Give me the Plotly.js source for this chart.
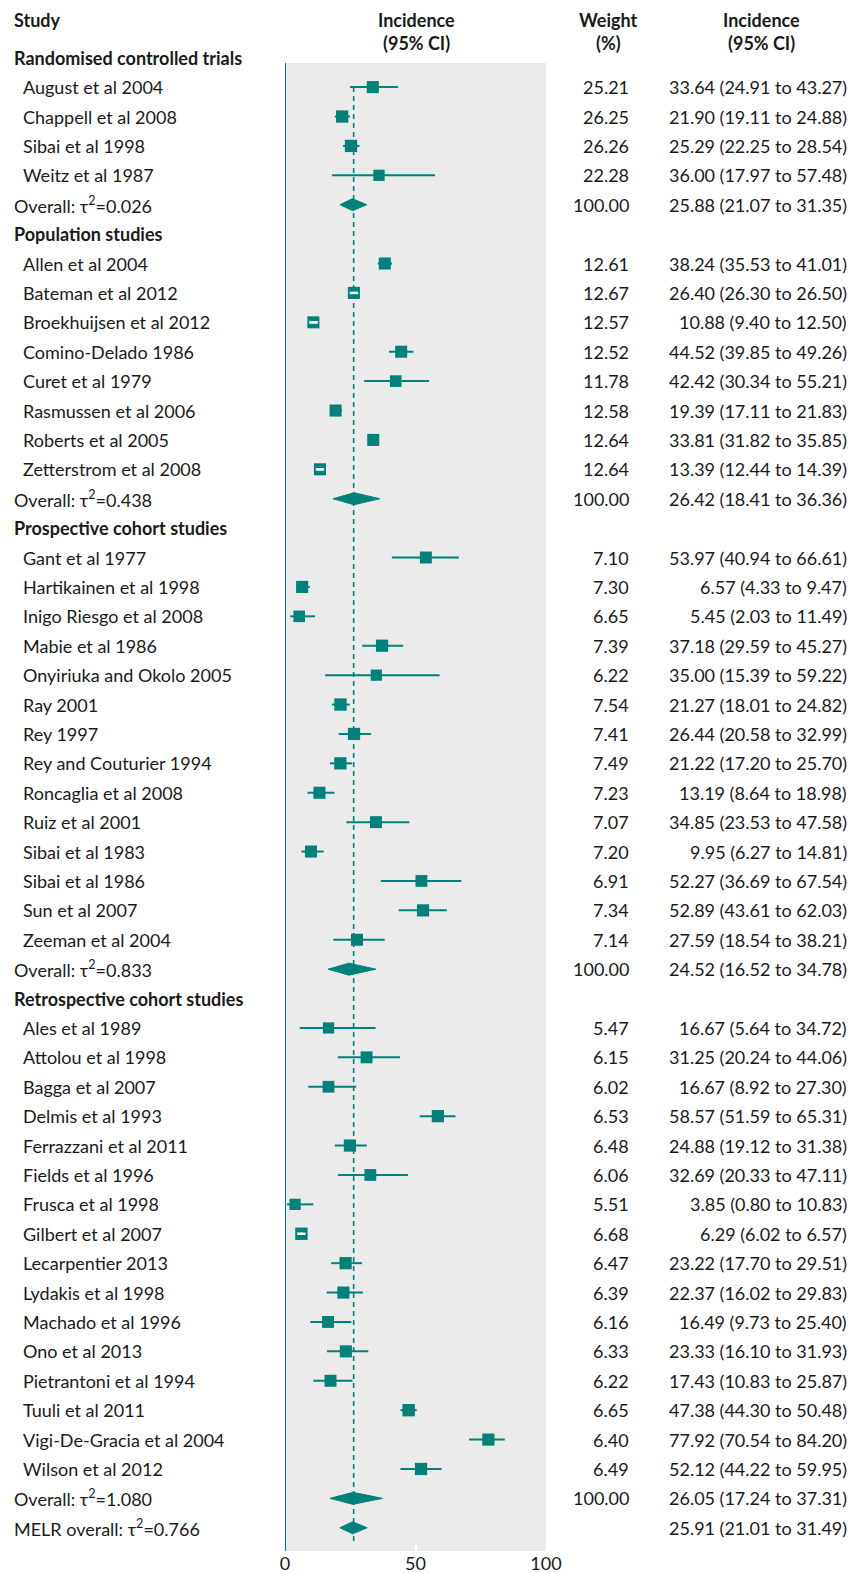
<!DOCTYPE html>
<html><head><meta charset="utf-8">
<script src="https://cdn.plot.ly/plotly-3.0.1.min.js"></script>
<style>html,body{margin:0;padding:0;background:#fff;} #chart{width:856px;height:1573px;}</style>
</head><body><div id="chart"></div>
<script>
// ---------------- DATA ----------------
const groupNames = ['Randomised controlled trials', 'Population studies', 'Prospective cohort studies', 'Retrospective cohort studies'];

const rctStudies = ['August et al 2004', 'Chappell et al 2008', 'Sibai et al 1998', 'Weitz et al 1987'];
const rctEst = [33.64, 21.90, 25.29, 36.00];
const rctLo = [24.91, 19.11, 22.25, 17.97];
const rctHi = [43.27, 24.88, 28.54, 57.48];
const rctWeight = [25.21, 26.25, 26.26, 22.28];

const popStudies = ['Allen et al 2004', 'Bateman et al 2012', 'Broekhuijsen et al 2012', 'Comino-Delado 1986', 'Curet et al 1979', 'Rasmussen et al 2006', 'Roberts et al 2005', 'Zetterstrom et al 2008'];
const popEst = [38.24, 26.40, 10.88, 44.52, 42.42, 19.39, 33.81, 13.39];
const popLo = [35.53, 26.30, 9.40, 39.85, 30.34, 17.11, 31.82, 12.44];
const popHi = [41.01, 26.50, 12.50, 49.26, 55.21, 21.83, 35.85, 14.39];
const popWeight = [12.61, 12.67, 12.57, 12.52, 11.78, 12.58, 12.64, 12.64];

const proStudies = ['Gant et al 1977', 'Hartikainen et al 1998', 'Inigo Riesgo et al 2008', 'Mabie et al 1986', 'Onyiriuka and Okolo 2005', 'Ray 2001', 'Rey 1997', 'Rey and Couturier 1994', 'Roncaglia et al 2008', 'Ruiz et al 2001', 'Sibai et al 1983', 'Sibai et al 1986', 'Sun et al 2007', 'Zeeman et al 2004'];
const proEst = [53.97, 6.57, 5.45, 37.18, 35.00, 21.27, 26.44, 21.22, 13.19, 34.85, 9.95, 52.27, 52.89, 27.59];
const proLo = [40.94, 4.33, 2.03, 29.59, 15.39, 18.01, 20.58, 17.20, 8.64, 23.53, 6.27, 36.69, 43.61, 18.54];
const proHi = [66.61, 9.47, 11.49, 45.27, 59.22, 24.82, 32.99, 25.70, 18.98, 47.58, 14.81, 67.54, 62.03, 38.21];
const proWeight = [7.10, 7.30, 6.65, 7.39, 6.22, 7.54, 7.41, 7.49, 7.23, 7.07, 7.20, 6.91, 7.34, 7.14];

const retStudies = ['Ales et al 1989', 'Attolou et al 1998', 'Bagga et al 2007', 'Delmis et al 1993', 'Ferrazzani et al 2011', 'Fields et al 1996', 'Frusca et al 1998', 'Gilbert et al 2007', 'Lecarpentier 2013', 'Lydakis et al 1998', 'Machado et al 1996', 'Ono et al 2013', 'Pietrantoni et al 1994', 'Tuuli et al 2011', 'Vigi-De-Gracia et al 2004', 'Wilson et al 2012'];
const retEst = [16.67, 31.25, 16.67, 58.57, 24.88, 32.69, 3.85, 6.29, 23.22, 22.37, 16.49, 23.33, 17.43, 47.38, 77.92, 52.12];
const retLo = [5.64, 20.24, 8.92, 51.59, 19.12, 20.33, 0.80, 6.02, 17.70, 16.02, 9.73, 16.10, 10.83, 44.30, 70.54, 44.22];
const retHi = [34.72, 44.06, 27.30, 65.31, 31.38, 47.11, 10.83, 6.57, 29.51, 29.83, 25.40, 31.93, 25.87, 50.48, 84.20, 59.95];
const retWeight = [5.47, 6.15, 6.02, 6.53, 6.48, 6.06, 5.51, 6.68, 6.47, 6.39, 6.16, 6.33, 6.22, 6.65, 6.40, 6.49];

const overallTau2 = ['0.026', '0.438', '0.833', '1.080'];
const overallEst = [25.88, 26.42, 24.52, 26.05];
const overallLo = [21.07, 18.41, 16.52, 17.24];
const overallHi = [31.35, 36.36, 34.78, 37.31];
const overallWeight = [100.00, 100.00, 100.00, 100.00];

const melrLabel = 'MELR overall';
const melrTau2 = '0.766';
const melrEst = 25.91, melrLo = 21.01, melrHi = 31.49;

const refLine = 26.3;
const xTicks = [0, 50, 100];
const headerStudy = 'Study';
const headerIncidence = ['Incidence', '(95% CI)'];
const headerWeight = ['Weight', '(%)'];

// ---------------- STYLE ----------------
const TEAL = '#00827b';
const GRAY = '#ebebeb';
const TXT = '#1a1a1a';
const FONT = 'Lato, "Open Sans", sans-serif';
const FS = 18;
const W = 856, H = 1573;
const ML = 285, MR = 310, MT = 63, MB = 22;
const PW = W - ML - MR, PH = H - MT - MB;
const Y0 = 0.18, Y1 = 50.79;
const rowPx = PH / (Y1 - Y0);
const px = p => (p - ML) / PW;                       // pixel -> paper x
const rowPaper = r => 1 - ((r - Y0) * rowPx) / PH;   // row -> paper y
const pxPerUnit = PW / 100;

const groups = [
  {name: groupNames[0], s: rctStudies, e: rctEst, lo: rctLo, hi: rctHi, w: rctWeight},
  {name: groupNames[1], s: popStudies, e: popEst, lo: popLo, hi: popHi, w: popWeight},
  {name: groupNames[2], s: proStudies, e: proEst, lo: proLo, hi: proHi, w: proWeight},
  {name: groupNames[3], s: retStudies, e: retEst, lo: retLo, hi: retHi, w: retWeight}
];

const f2 = v => v.toFixed(2);
const ciText = (e, l, h) => `${f2(e)} (${f2(l)} to ${f2(h)})`;

const ann = [];
function addText(text, xp, r, anchor, bold) {
  ann.push({text: bold ? '<b>' + text + '</b>' : text, xref: 'paper', x: px(xp), yref: 'paper', y: rowPaper(r),
    xanchor: anchor, yanchor: 'middle', showarrow: false,
    font: {family: FONT, size: FS, color: TXT}});
}

const ciX = [], ciY = [];
const boxX = [], boxY = [], boxS = [];
const whX = [], whY = [], whMX = [], whMY = [];
const diamonds = [];

let row = 0;
groups.forEach((g, gi) => {
  addText(g.name, 12, row, 'left', true);
  row++;
  const mean = g.w.reduce((a, b) => a + b, 0) / g.w.length;
  g.s.forEach((name, i) => {
    addText(name, 21, row, 'left', false);
    addText(f2(g.w[i]), 631, row, 'right', false);
    addText(ciText(g.e[i], g.lo[i], g.hi[i]), 849, row, 'right', false);
    ciX.push(g.lo[i], g.hi[i], null); ciY.push(row, row, null);
    const size = 12 * Math.sqrt(g.w[i] / mean);
    boxX.push(g.e[i]); boxY.push(row); boxS.push(size);
    if ((g.hi[i] - g.lo[i]) * pxPerUnit < size * 0.75) {
      whX.push(g.lo[i], g.hi[i], null); whY.push(row, row, null);
      whMX.push(g.e[i]); whMY.push(row);
    }
    row++;
  });
  addText('Overall: τ<sup>2</sup>=' + overallTau2[gi], 12, row, 'left', false);
  addText(f2(overallWeight[gi]), 631, row, 'right', false);
  addText(ciText(overallEst[gi], overallLo[gi], overallHi[gi]), 849, row, 'right', false);
  diamonds.push({e: overallEst[gi], lo: overallLo[gi], hi: overallHi[gi], y: row});
  row++;
});
addText(melrLabel + ': τ<sup>2</sup>=' + melrTau2, 12, row, 'left', false);
addText(ciText(melrEst, melrLo, melrHi), 849, row, 'right', false);
diamonds.push({e: melrEst, lo: melrLo, hi: melrHi, y: row});
const lastRow = row;

// headers
const hy1 = -1.28, hy2 = -0.49;
addText(headerStudy, 12, hy1, 'left', true);
[[headerIncidence, 416], [headerWeight, 608], [headerIncidence, 761]].forEach(([h, c]) => {
  addText(h[0], c, hy1, 'center', true);
  addText(h[1], c, hy2, 'center', true);
});

const traces = [];
traces.push({type: 'scatter', mode: 'lines', x: ciX, y: ciY, line: {color: TEAL, width: 2}, hoverinfo: 'skip', connectgaps: false});
traces.push({type: 'scatter', mode: 'markers', x: boxX, y: boxY, marker: {symbol: 'square', size: boxS, color: TEAL, opacity: 1, line: {width: 0}}, hoverinfo: 'skip'});
traces.push({type: 'scatter', mode: 'lines', x: whX, y: whY, line: {color: '#ffffff', width: 2.5}, hoverinfo: 'skip', connectgaps: false});
traces.push({type: 'scatter', mode: 'markers', x: whMX, y: whMY, marker: {symbol: 'line-ew', size: 6, color: '#ffffff', opacity: 1, line: {color: '#ffffff', width: 2.5}}, hoverinfo: 'skip'});
const dh = 6 / rowPx;
diamonds.forEach(d => {
  traces.push({type: 'scatter', mode: 'lines', x: [d.lo, d.e, d.hi, d.e, d.lo], y: [d.y, d.y - dh, d.y, d.y + dh, d.y],
    fill: 'toself', fillcolor: TEAL, line: {color: TEAL, width: 1}, hoverinfo: 'skip'});
});

const shapes = [
  {type: 'line', xref: 'x', yref: 'y', x0: refLine, x1: refLine, y0: 1, y1: lastRow + 0.5, line: {color: TEAL, width: 1.6, dash: '5px,4px'}, layer: 'above'},
  {type: 'line', xref: 'x', yref: 'paper', x0: 0, x1: 0, y0: 0, y1: 1, line: {color: TEAL, width: 2}, layer: 'above'}
];

const layout = {
  width: W, height: H,
  margin: {l: ML, r: MR, t: MT, b: MB, pad: 0},
  paper_bgcolor: '#ffffff', plot_bgcolor: GRAY,
  showlegend: false,
  font: {family: FONT, size: FS, color: TXT},
  xaxis: {range: [0, 100], tickvals: xTicks, ticktext: xTicks.map(String), ticks: 'inside', ticklen: 6, tickwidth: 2, tickcolor: '#ffffff',
    showgrid: false, zeroline: false, showline: false, fixedrange: true, tickfont: {family: FONT, size: FS, color: TXT}},
  yaxis: {range: [Y1, Y0], showticklabels: false, showgrid: false, zeroline: false, showline: false, ticks: '', fixedrange: true},
  annotations: ann,
  shapes: shapes,
  hovermode: false
};

Plotly.newPlot('chart', traces, layout, {displayModeBar: false, staticPlot: true});
</script>
</body></html>
